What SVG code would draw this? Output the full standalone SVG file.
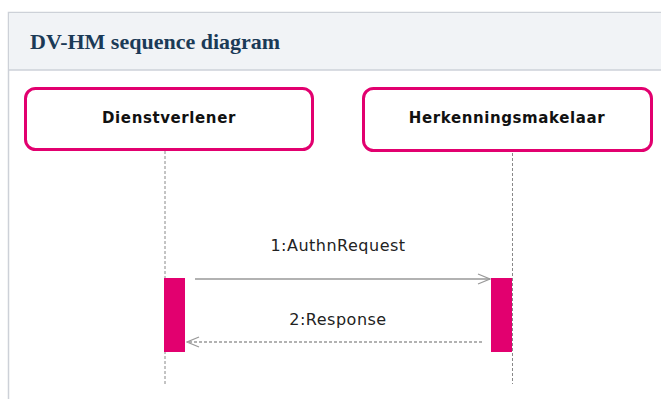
<svg xmlns="http://www.w3.org/2000/svg" width="661" height="399" viewBox="0 0 661 399">
<defs>
<style>
.title{font-family:"Liberation Serif","DejaVu Serif",serif;font-size:22px;font-weight:bold;fill:#1b3a57}
.node rect{fill:#fff;stroke:#e2006f;stroke-width:3}
.node text{font-family:"DejaVu Sans","Noto Sans",sans-serif;font-size:15px;font-weight:bold;fill:#111;text-anchor:middle;letter-spacing:0.6px}
.life{stroke:#888;stroke-width:1;stroke-dasharray:3 2;fill:none}
.act{fill:#e2006f}
.msg{stroke:#999;stroke-width:1.3;fill:none}
.lbl{font-family:"DejaVu Sans","Noto Sans",sans-serif;font-size:16px;fill:#222;text-anchor:middle;letter-spacing:0.5px}
</style>
<marker id="open" markerWidth="14" markerHeight="12" refX="13" refY="6" orient="auto" markerUnits="userSpaceOnUse">
<path d="M1,1 L13,6 L1,11" fill="none" stroke="#999" stroke-width="1.3"/>
</marker>
</defs>
<rect x="0" y="0" width="661" height="399" fill="#fff"/>
<rect x="8.5" y="12.5" width="660" height="400" fill="#fff" stroke="#cdd1d8" stroke-width="1.5"/>
<rect x="9.25" y="13.25" width="660" height="56.5" fill="#f1f3f6"/>
<line x1="9" y1="70" x2="661" y2="70" stroke="#cdd1d8" stroke-width="1.5"/>
<text class="title" x="30" y="49">DV-HM sequence diagram</text>
<g id="lifelines">
<line class="life" x1="165" y1="151" x2="165" y2="384"/>
<line class="life" x1="512.5" y1="153" x2="512.5" y2="384"/>
</g>
<g id="dienstverlener" class="node">
<rect x="25.5" y="88.5" width="287" height="61" rx="10"/>
<text x="169" y="123">Dienstverlener</text>
</g>
<g id="herkenningsmakelaar" class="node">
<rect x="363.5" y="88.5" width="288" height="62" rx="10"/>
<text x="507" y="123">Herkenningsmakelaar</text>
</g>
<g id="activations">
<rect class="act" x="164" y="278" width="21" height="74"/>
<rect class="act" x="491" y="278" width="21" height="74"/>
</g>
<g id="connectors">
<line class="msg" x1="195" y1="279" x2="490" y2="279" marker-end="url(#open)"/>
<text class="lbl" x="338" y="251">1:AuthnRequest</text>
<line class="msg" x1="482" y1="342" x2="187" y2="342" stroke-dasharray="3 2" marker-end="url(#open)"/>
<text class="lbl" x="338" y="325">2:Response</text>
</g>
</svg>
